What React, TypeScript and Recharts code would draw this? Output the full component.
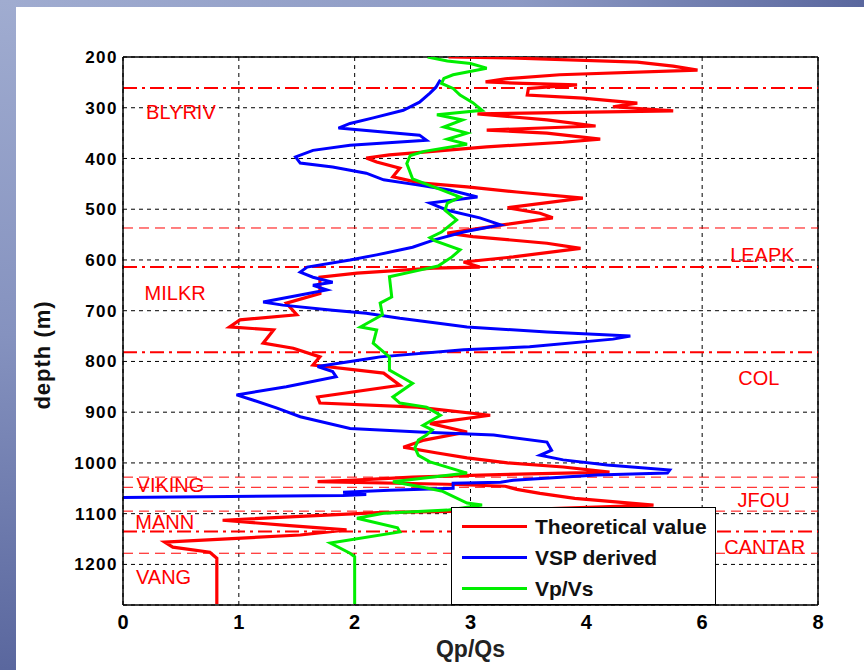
import { LineChart, Line, XAxis, YAxis, CartesianGrid, Legend, ReferenceLine, ReferenceDot } from 'recharts';

// [depth (m), Qp/Qs]
const theoretical: [number, number][] = [
  [200, 2.81], [202, 3.34], [210, 4.44], [218, 4.75], [226, 4.96], [235, 3.77], [243, 3.3], [249, 3.13],
  [252, 3.45], [255, 3.92], [262, 3.5], [275, 3.49], [281, 3.97], [291, 4.44], [298, 4.23], [306, 4.75],
  [312, 3.06], [324, 3.66], [336, 4.08], [344, 3.14], [350, 3.66], [362, 4.12], [368, 3.8], [377, 3.14],
  [387, 2.62], [393, 2.3], [399, 2.1], [407, 2.19], [419, 2.39], [436, 2.33], [448, 2.56], [456, 2.97],
  [466, 3.4], [478, 3.97], [497, 3.32], [508, 3.6], [517, 3.71], [531, 3.28], [547, 2.8], [554, 3.02],
  [567, 3.66], [577, 3.95], [594, 3.37], [604, 2.94], [614, 3.08], [616, 2.68], [626, 2.02], [634, 1.7],
  [666, 1.7], [685, 1.41], [708, 1.5], [718, 1.01], [732, 0.92], [738, 1.3], [764, 1.21], [774, 1.47],
  [791, 1.7], [807, 1.64], [823, 2.25], [847, 2.39], [870, 1.68], [882, 1.7], [890, 2.54], [906, 3.17],
  [922, 2.65], [939, 2.97], [955, 2.6], [969, 2.42], [980, 2.7], [990, 2.97], [1000, 3.32], [1008, 3.8],
  [1018, 4.2], [1024, 3.08], [1028, 2.5], [1034, 2.0], [1037, 1.68], [1042, 2.8], [1046, 3.3], [1052, 3.4],
  [1060, 3.6], [1070, 3.9], [1083, 4.58], [1094, 3.2], [1098, 2.2], [1113, 0.86], [1123, 1.41], [1132, 1.93],
  [1142, 1.53], [1156, 0.36], [1166, 0.43], [1176, 0.75], [1188, 0.81], [1278, 0.81],
];

const vspDerived: [number, number][] = [
  [245, 2.74], [260, 2.7], [271, 2.65], [289, 2.56], [305, 2.42], [320, 2.16], [331, 1.96], [340, 1.86],
  [354, 2.56], [364, 2.62], [374, 1.96], [384, 1.64], [397, 1.49], [409, 1.53], [417, 1.81], [429, 2.1],
  [442, 2.25], [452, 2.54], [462, 2.82], [476, 3.06], [488, 2.65], [502, 2.8], [517, 3.08], [531, 3.26],
  [545, 2.94], [561, 2.68], [575, 2.5], [590, 2.19], [600, 1.96], [614, 1.59], [624, 1.53], [634, 1.64],
  [644, 1.81], [650, 1.64], [659, 1.76], [669, 1.53], [683, 1.21], [689, 1.38], [699, 1.81], [705, 2.1],
  [715, 2.39], [725, 2.74], [732, 2.97], [742, 3.66], [750, 4.38], [756, 4.23], [771, 3.51], [777, 2.94],
  [791, 2.22], [793, 2.16], [810, 1.68], [820, 1.81], [830, 1.84], [850, 1.41], [866, 0.98], [876, 1.12],
  [892, 1.33], [909, 1.53], [932, 1.96], [939, 2.56], [945, 3.2], [959, 3.66], [975, 3.7], [985, 3.6],
  [994, 3.8], [1004, 4.18], [1014, 4.72], [1020, 4.7], [1024, 4.09], [1034, 3.37], [1038, 3.26], [1040, 2.85],
  [1050, 2.85], [1054, 2.3], [1058, 1.9], [1062, 2.1], [1064, 1.9], [1068, 0],
];

const vpVs: [number, number][] = [
  [200, 2.63], [208, 2.8], [213, 3.0], [222, 3.14], [235, 2.85], [242, 2.77], [252, 2.75], [262, 2.85],
  [275, 2.91], [290, 3.02], [305, 3.1], [314, 2.71], [324, 2.93], [338, 2.77], [350, 2.97], [362, 2.8],
  [372, 2.97], [386, 2.6], [394, 2.48], [410, 2.45], [440, 2.5], [448, 2.59], [462, 2.75], [476, 2.91],
  [488, 2.8], [502, 2.78], [521, 2.88], [545, 2.75], [556, 2.65], [562, 2.69], [580, 2.91], [594, 2.84],
  [612, 2.72], [618, 2.6], [633, 2.3], [673, 2.32], [685, 2.22], [708, 2.24], [732, 2.05], [738, 2.19],
  [764, 2.16], [791, 2.3], [817, 2.3], [843, 2.5], [870, 2.33], [882, 2.39], [890, 2.62], [906, 2.74],
  [926, 2.59], [935, 2.67], [945, 2.62], [955, 2.55], [970, 2.52], [985, 2.55], [998, 2.65], [1020, 2.97],
  [1037, 2.33], [1048, 2.59], [1056, 2.76], [1079, 2.97], [1083, 3.1], [1093, 2.8], [1099, 2.25], [1109, 2.02],
  [1128, 2.37], [1136, 2.39], [1158, 1.79], [1178, 1.96], [1185, 2.0], [1278, 2.0],
];

const xTicks = [0, 1, 2, 3, 4, 5, 6];
const xTickLabels = ['0', '1', '2', '3', '4', '6', '8'];
const depthTicks = [200, 300, 400, 500, 600, 700, 800, 900, 1000, 1100, 1200];

// formation tops (m); heavy = dash-dot style in the original
const formationTops = [261, 537, 614, 782, 1028, 1048, 1095, 1135, 1178];
const heavyTops = [261, 614, 782, 1135];

const formationNames = ['BLYRIV', 'MILKR', 'LEAPK', 'COL', 'VIKING', 'MANN', 'VANG', 'JFOU', 'CANTAR'];
const formationLabelX = [0.5, 0.45, 5.52, 5.49, 0.41, 0.36, 0.35, 5.53, 5.54];
const formationLabelDepth = [308, 665, 590, 833, 1043, 1116, 1225, 1073, 1166];

const series = [
  { name: 'Theoretical value', color: '#ff0000', points: theoretical, width: 3.2 },
  { name: 'VSP derived', color: '#0000ff', points: vspDerived, width: 3 },
  { name: 'Vp/Vs', color: '#00ee00', points: vpVs, width: 3 },
];

const toRows = (pts: [number, number][]) => pts.map(([depth, value]) => ({ depth, value }));

const FONT = '"Liberation Sans", Arial, sans-serif';

const LegendBox = () => (
  <div
    style={{
      width: 265,
      height: 98,
      boxSizing: 'border-box',
      border: '1.5px solid #000',
      background: '#fff',
      fontFamily: FONT,
      paddingTop: 3,
    }}
  >
    {series.map((s) => (
      <div key={s.name} style={{ display: 'flex', alignItems: 'center', height: 31 }}>
        <div style={{ marginLeft: 10, width: 65, height: s.width + 0.5, background: s.color }} />
        <span style={{ marginLeft: 8, fontSize: 21, fontWeight: 'bold', color: '#111', whiteSpace: 'nowrap' }}>
          {s.name}
        </span>
      </div>
    ))}
  </div>
);

const QpQsChart = () => {
  return (
    <div style={{ position: 'absolute', left: 0, top: 0, width: 864, height: 670, background: '#fff', overflow: 'hidden' }}>
      <div
        style={{
          position: 'absolute', left: 0, top: 0, width: 864, height: 7,
          background: 'linear-gradient(to right, #a0acd0, #8d9ac4 60%, #5a679e)',
        }}
      />
      <div
        style={{
          position: 'absolute', left: 0, top: 0, width: 16, height: 670,
          background: 'linear-gradient(to bottom, #a0acd0, #8592bf 50%, #5a679e)',
        }}
      />
      <div style={{ position: 'absolute', left: 0, top: 0 }}>
        <LineChart
          width={864}
          height={670}
          layout="vertical"
          margin={{ top: 57, right: 46, bottom: 35, left: 53 }}
        >
          <CartesianGrid stroke="#000" strokeDasharray="4 4" strokeWidth={1} />
          <XAxis
            type="number"
            dataKey="value"
            domain={[0, 6]}
            ticks={xTicks}
            allowDataOverflow
            height={30}
            tickLine={false}
            tickSize={6}
            tickMargin={4}
            axisLine={{ stroke: '#000', strokeWidth: 1.5 }}
            tickFormatter={(v: number) => xTickLabels[xTicks.indexOf(v)]}
            tick={{ fill: '#000', fontSize: 20, fontWeight: 'bold', fontFamily: FONT }}
            label={{
              value: 'Qp/Qs', position: 'bottom', offset: 6, fill: '#222',
              fontSize: 23, fontWeight: 'bold', fontFamily: FONT,
            }}
          />
          <YAxis
            type="number"
            dataKey="depth"
            domain={[200, 1280]}
            ticks={depthTicks}
            allowDataOverflow
            width={70}
            tickLine={false}
            tickSize={3}
            tickMargin={2}
            axisLine={{ stroke: '#000', strokeWidth: 1.5 }}
            tick={{ fill: '#000', fontSize: 17, fontWeight: 'bold', fontFamily: FONT, letterSpacing: 1.5 }}
            label={{
              content: ({ viewBox }: any) => (
                <text
                  x={viewBox.x - 11}
                  y={viewBox.y + viewBox.height / 2 + 24}
                  transform={`rotate(-90, ${viewBox.x - 11}, ${viewBox.y + viewBox.height / 2 + 24})`}
                  textAnchor="middle"
                  dominantBaseline="central"
                  fill="#111"
                  fontSize={22}
                  fontWeight="bold"
                  fontFamily={FONT}
                  letterSpacing={1}
                >
                  depth (m)
                </text>
              ),
            }}
          />
          <ReferenceLine y={200} stroke="#000" strokeWidth={1.5} />
          <ReferenceLine x={6} stroke="#000" strokeWidth={1.5} />
          {formationTops.map((d) => (
            <ReferenceLine
              key={d}
              y={d}
              stroke="#ff0000"
              strokeWidth={heavyTops.includes(d) ? 2 : 1}
              strokeDasharray={heavyTops.includes(d) ? '14 5 3 5' : '10 6'}
            />
          ))}
          {formationNames.map((name, i) => (
            <ReferenceDot
              key={name}
              x={formationLabelX[i]}
              y={formationLabelDepth[i]}
              r={0}
              stroke="none"
              fill="none"
              label={{ value: name, position: 'center', fill: '#ff0000', fontSize: 20, fontFamily: FONT }}
            />
          ))}
          {series.map((s) => (
            <Line
              key={s.name}
              name={s.name}
              data={toRows(s.points)}
              dataKey="value"
              type="linear"
              stroke={s.color}
              strokeWidth={s.width}
              dot={false}
              isAnimationActive={false}
            />
          ))}
          <Legend
            layout="vertical"
            align="center"
            verticalAlign="middle"
            wrapperStyle={{ left: 451, top: 507, width: 265, height: 98 }}
            content={() => <LegendBox />}
          />
        </LineChart>
      </div>
    </div>
  );
};

export default function App() {
  return <QpQsChart />;
}
